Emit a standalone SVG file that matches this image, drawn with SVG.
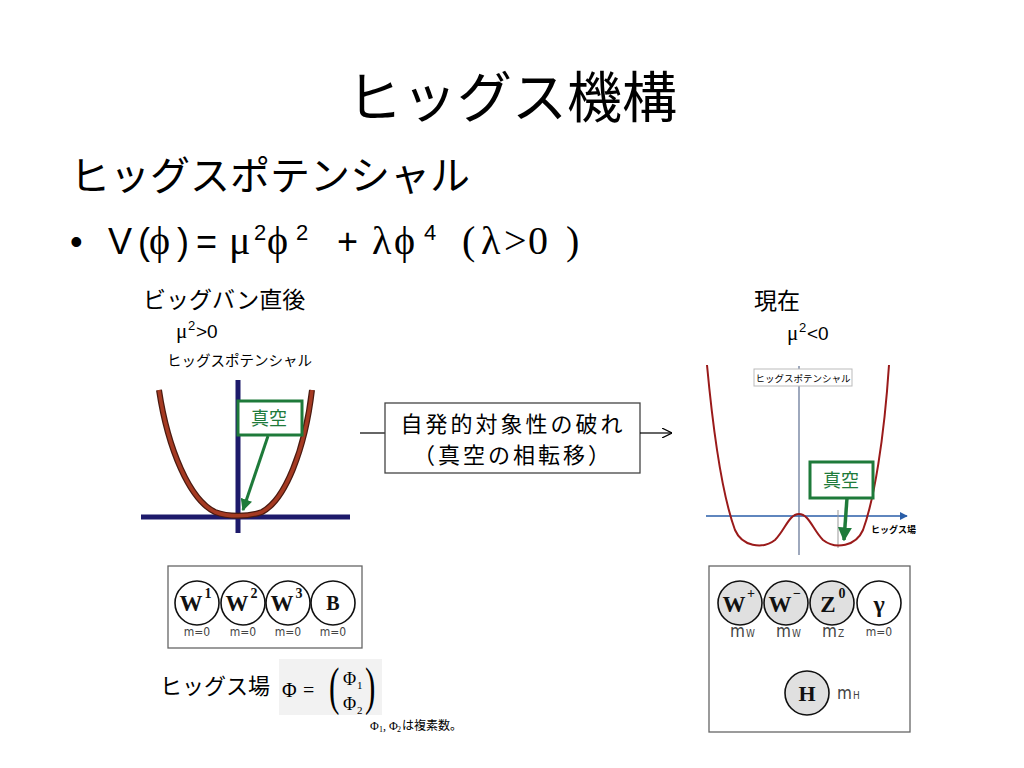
<svg xmlns="http://www.w3.org/2000/svg" width="1024" height="768" viewBox="0 0 1024 768">
<defs>
<style>
.jp{font-family:"Noto Sans CJK JP","Liberation Sans",sans-serif;fill:#000}
.sym{font-family:"Liberation Serif","DejaVu Serif",serif;fill:#000}
.lat{font-family:"Liberation Sans","Noto Sans CJK JP",sans-serif;fill:#000}
.gray{font-family:"DejaVu Sans Condensed","Liberation Sans Narrow","Liberation Sans",sans-serif;fill:#444}
.green{stroke:#1e7a3a;fill:none}
.gbox{fill:#fff;stroke:#1e7a3a;stroke-width:3}
.gtxt{font-family:"Noto Sans CJK JP",sans-serif;fill:#1e7a3a;font-size:18px}
.circ{stroke:#111;stroke-width:1.6}
.bold{font-family:"Liberation Serif",serif;font-weight:bold;fill:#111}
</style>
<marker id="garr" viewBox="0 0 10 10" refX="9" refY="5" markerWidth="4" markerHeight="4" orient="auto">
<path d="M0,0 L10,5 L0,10 z" fill="#1e7a3a"/>
</marker>
<marker id="open" viewBox="0 0 10 10" refX="10" refY="5" markerWidth="10" markerHeight="10" markerUnits="userSpaceOnUse" orient="auto">
<path d="M0,0 L10,5 L0,10" fill="none" stroke="#000" stroke-width="1.2"/>
</marker>
<marker id="blue" viewBox="0 0 10 10" refX="9" refY="5" markerWidth="8" markerHeight="8" markerUnits="userSpaceOnUse" orient="auto">
<path d="M0,0 L10,5 L0,10 z" fill="#2a5ea8"/>
</marker>
</defs>
<rect width="1024" height="768" fill="#fff"/>

<text id="title" class="jp" x="512" y="117" font-size="55" text-anchor="middle">ヒッグス機構</text>
<text id="subtitle" class="jp" x="70" y="190" font-size="40">ヒッグスポテンシャル</text>
<g id="formula" font-size="36">
<text class="lat" x="70" y="254">•</text>
<text class="lat" x="108" y="254">V</text>
<text class="lat" x="138" y="254">(</text>
<text class="sym" x="149" y="254" font-size="40">ϕ</text>
<text class="lat" x="177" y="254">)</text>
<text class="lat" x="196" y="254">=</text>
<text class="sym" x="229" y="254" font-size="40">μ</text>
<text class="lat" x="254" y="240" font-size="22">2</text>
<text class="sym" x="267" y="254" font-size="40">ϕ</text>
<text class="lat" x="296" y="240" font-size="22">2</text>
<text class="lat" x="337" y="254">+</text>
<text class="sym" x="372" y="254" font-size="40">λ</text>
<text class="sym" x="394" y="254" font-size="40">ϕ</text>
<text class="lat" x="424" y="240" font-size="22">4</text>
<text class="sym" x="462" y="254" font-size="40">(</text>
<text class="sym" x="481" y="254" font-size="40">λ</text>
<text class="sym" x="504" y="254" font-size="40">&gt;</text>
<text class="sym" x="528" y="254" font-size="40">0</text>
<text class="sym" x="566" y="254" font-size="40">)</text>
</g>

<g id="left-plot">
<text class="jp" x="143" y="308" font-size="23">ビッグバン直後</text>
<text class="sym" x="176" y="338" font-size="21">μ</text>
<text class="lat" x="188" y="330" font-size="13">2</text>
<text class="lat" x="196" y="338" font-size="19">&gt;0</text>
<text class="jp" x="167" y="366" font-size="14.5">ヒッグスポテンシャル</text>
<line x1="238" y1="380" x2="238" y2="533" stroke="#1d1a6b" stroke-width="5"/>
<line x1="141" y1="517" x2="350" y2="517" stroke="#1d1a6b" stroke-width="5"/>
<path d="M159,390 C168,450 190,500 215,512 C228,517 248,517 262,512 C285,500 305,450 312,390" fill="none" stroke="#4a1a10" stroke-width="6"/>
<path d="M159,390 C168,450 190,500 215,512 C228,517 248,517 262,512 C285,500 305,450 312,390" fill="none" stroke="#a53a22" stroke-width="3.5"/>
<rect class="gbox" x="238" y="401" width="64" height="34"/>
<text class="gtxt" x="269" y="425" text-anchor="middle">真空</text>
<line class="green" x1="268" y1="436" x2="243" y2="510" stroke-width="3" marker-end="url(#garr)"/>
</g>

<g id="transition">
<line x1="360" y1="433" x2="385" y2="433" stroke="#000" stroke-width="1.2"/>
<rect x="385" y="403" width="255" height="70" fill="#fff" stroke="#444" stroke-width="1.3"/>
<text class="jp" x="513" y="432" font-size="22" letter-spacing="3" text-anchor="middle">自発的対象性の破れ</text>
<text class="jp" x="513" y="463" font-size="22" letter-spacing="3" text-anchor="middle">（真空の相転移）</text>
<line x1="640" y1="433" x2="672" y2="433" stroke="#000" stroke-width="1.2" marker-end="url(#open)"/>
</g>

<g id="right-plot">
<text class="jp" x="754" y="309" font-size="23">現在</text>
<text class="sym" x="787" y="340" font-size="21">μ</text>
<text class="lat" x="799" y="332" font-size="13">2</text>
<text class="lat" x="807" y="340" font-size="19">&lt;0</text>
<line x1="799" y1="366" x2="799" y2="555" stroke="#6a7a9a" stroke-width="1.3"/>
<rect x="754" y="369" width="98" height="17" fill="#fff" stroke="#bbb" stroke-width="1"/>
<text class="jp" x="803" y="382" font-size="9.5" text-anchor="middle" fill="#333">ヒッグスポテンシャル</text>
<line x1="706" y1="516" x2="907" y2="516" stroke="#2a5ea8" stroke-width="1.6" marker-end="url(#blue)"/>
<text class="jp" x="871" y="533" font-size="9" font-weight="bold">ヒッグス場</text>
<line x1="838" y1="510" x2="838" y2="548" stroke="#999" stroke-width="1"/>
<path d="M707,365 C714,440 724,500 735,530 C742,546 762,550 775,540 C785,530 789,514 799,514 C809,514 813,530 823,540 C836,550 856,546 863,530 C874,500 884,440 889,365" fill="none" stroke="#9a1a1a" stroke-width="2"/>
<rect class="gbox" x="810" y="462" width="63" height="36"/>
<text class="gtxt" x="841" y="487" text-anchor="middle">真空</text>
<line class="green" x1="847" y1="498" x2="844" y2="540" stroke-width="3.5" marker-end="url(#garr)"/>
</g>

<g id="before-particles">
<rect x="168" y="566" width="194" height="82" fill="#fff" stroke="#666" stroke-width="1.3"/>
<circle class="circ" cx="197" cy="603" r="22" fill="#fff"/>
<circle class="circ" cx="243" cy="603" r="22" fill="#fff"/>
<circle class="circ" cx="288" cy="603" r="22" fill="#fff"/>
<circle class="circ" cx="333" cy="603" r="22" fill="#fff"/>
<text class="bold" x="191" y="611" font-size="23" text-anchor="middle">W</text>
<text class="bold" x="208" y="598" font-size="14" text-anchor="middle">1</text>
<text class="bold" x="237" y="611" font-size="23" text-anchor="middle">W</text>
<text class="bold" x="254" y="598" font-size="14" text-anchor="middle">2</text>
<text class="bold" x="282" y="611" font-size="23" text-anchor="middle">W</text>
<text class="bold" x="299" y="598" font-size="14" text-anchor="middle">3</text>
<text class="bold" x="333" y="610" font-size="20" text-anchor="middle">B</text>
<text class="gray" x="197" y="636" font-size="12" text-anchor="middle">m=0</text>
<text class="gray" x="243" y="636" font-size="12" text-anchor="middle">m=0</text>
<text class="gray" x="288" y="636" font-size="12" text-anchor="middle">m=0</text>
<text class="gray" x="333" y="636" font-size="12" text-anchor="middle">m=0</text>
</g>

<g id="higgs-field">
<text class="jp" x="160" y="694" font-size="22">ヒッグス場</text>
<rect x="279" y="659" width="103" height="56" fill="#f2f2f2"/>
<text class="sym" x="282" y="697" font-size="20">Φ</text>
<text class="sym" x="303" y="697" font-size="20">=</text>
<text class="sym" x="329" y="704" font-size="52" transform="scale(0.6,1)" transform-origin="329 704">(</text>
<text class="sym" x="365" y="704" font-size="52" transform="scale(0.6,1)" transform-origin="365 704">)</text>
<text class="sym" x="343" y="685" font-size="18">Φ</text>
<text class="sym" x="357" y="689" font-size="11">1</text>
<text class="sym" x="343" y="710" font-size="18">Φ</text>
<text class="sym" x="357" y="714" font-size="11">2</text>
<text class="sym" x="370" y="730" font-size="12">Φ</text>
<text class="sym" x="379" y="732" font-size="8">1</text>
<text class="sym" x="383" y="730" font-size="12">, Φ</text>
<text class="sym" x="397" y="732" font-size="8">2</text>
<text class="jp" x="402" y="730" font-size="12">は複素数。</text>
</g>

<g id="after-particles">
<rect x="709" y="566" width="201" height="166" fill="#fff" stroke="#666" stroke-width="1.3"/>
<circle class="circ" cx="740" cy="603" r="22" fill="#e0e0e0"/>
<circle class="circ" cx="786" cy="603" r="22" fill="#e0e0e0"/>
<circle class="circ" cx="832" cy="603" r="22" fill="#e0e0e0"/>
<circle class="circ" cx="879" cy="603" r="22" fill="#fff"/>
<text class="bold" x="734" y="612" font-size="23" text-anchor="middle">W</text>
<text class="bold" x="751" y="598" font-size="14" text-anchor="middle">+</text>
<text class="bold" x="780" y="612" font-size="23" text-anchor="middle">W</text>
<text class="bold" x="797" y="598" font-size="14" text-anchor="middle">−</text>
<text class="bold" x="828" y="612" font-size="23" text-anchor="middle">Z</text>
<text class="bold" x="842" y="598" font-size="14" text-anchor="middle">0</text>
<text class="bold" x="879" y="612" font-size="24" text-anchor="middle">γ</text>
<text class="gray" x="730" y="637" font-size="17">m</text>
<text class="gray" x="746" y="637" font-size="10">W</text>
<text class="gray" x="776" y="637" font-size="17">m</text>
<text class="gray" x="792" y="637" font-size="10">W</text>
<text class="gray" x="822" y="637" font-size="17">m</text>
<text class="gray" x="838" y="637" font-size="10">Z</text>
<text class="gray" x="879" y="636" font-size="12" text-anchor="middle">m=0</text>
<circle class="circ" cx="807" cy="693" r="22" fill="#e0e0e0"/>
<text class="bold" x="807" y="701" font-size="22" text-anchor="middle">H</text>
<text class="gray" x="837" y="699" font-size="17">m</text>
<text class="gray" x="853" y="699" font-size="10">H</text>
</g>
</svg>
